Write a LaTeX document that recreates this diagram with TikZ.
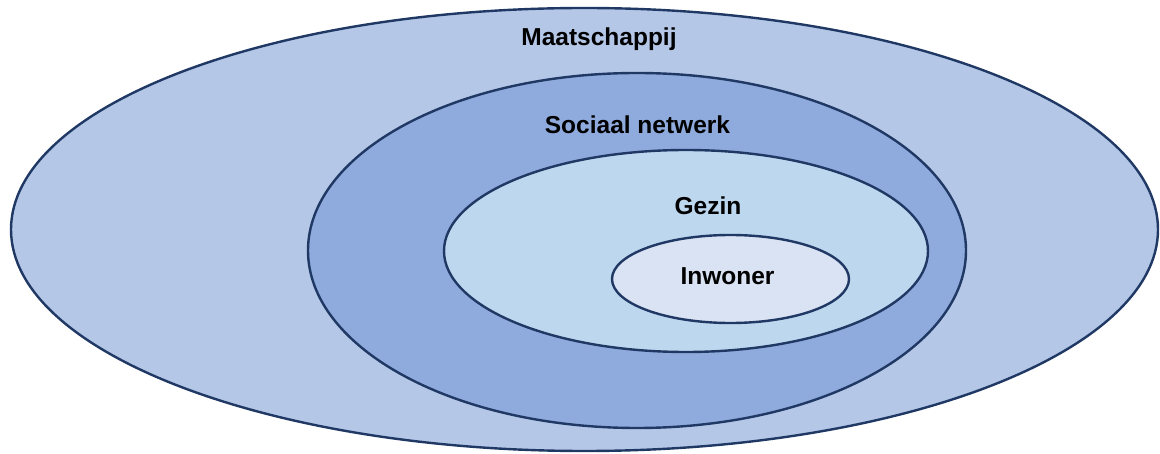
\documentclass[tikz,border=0pt]{standalone}
\usepackage{fontspec}
\setmainfont{Liberation Sans}
\usetikzlibrary{shapes.geometric}
\definecolor{cOuter}{HTML}{B4C7E7}
\definecolor{cSecond}{HTML}{8FAADC}
\definecolor{cThird}{HTML}{BDD7EE}
\definecolor{cInner}{HTML}{DAE3F3}
\definecolor{cLine}{HTML}{203864}
\tikzset{
  ring/.style={ellipse, draw=cLine, line width=2.4pt, inner sep=0pt},
  lbl/.style={anchor=base, font=\fontsize{24.5}{24.5}\selectfont\bfseries, text=black, inner sep=0pt}
}
\begin{document}
\begin{tikzpicture}[x=1pt,y=-1pt]
\useasboundingbox (0,0) rectangle (1160,454);
\node[ring, fill=cOuter, minimum width=1147pt, minimum height=443pt] (maat) at (584.5,229.5) {};
\node[ring, fill=cSecond, minimum width=658pt, minimum height=355pt] (soc) at (637,250.5) {};
\node[ring, fill=cThird, minimum width=484pt, minimum height=202pt] (gez) at (686,251) {};
\node[ring, fill=cInner, minimum width=237pt, minimum height=88pt] (inw) at (730.5,279) {};
\node[lbl] (tmaat) at (599,46) {Maatschappij};
\node[lbl] (tsoc) at (637.5,134) {Sociaal netwerk};
\node[lbl] (tgez) at (708,215) {Gezin};
\node[lbl] (tinw) at (727.5,285) {Inwoner};
\end{tikzpicture}
\end{document}
